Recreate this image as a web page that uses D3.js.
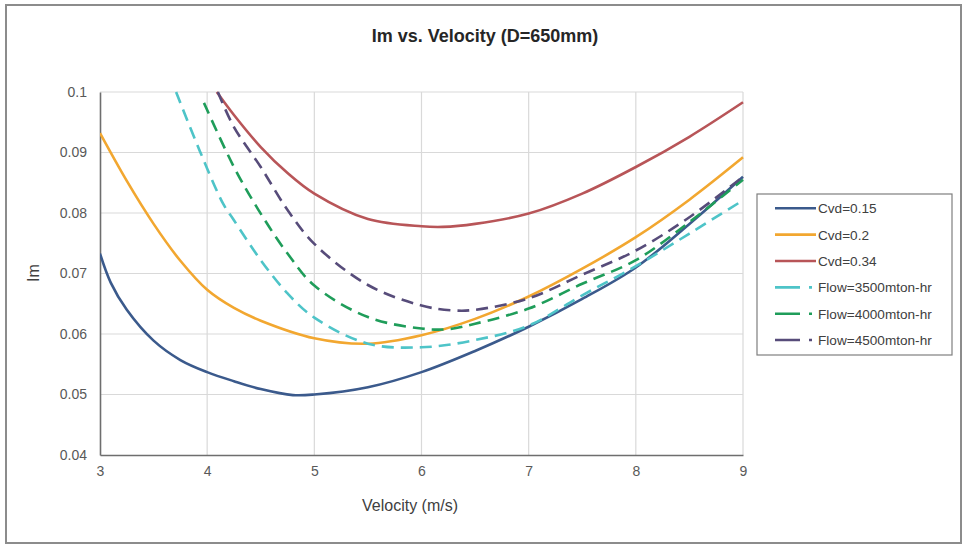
<!DOCTYPE html>
<html>
<head>
<meta charset="utf-8">
<script src="https://cdn.jsdelivr.net/npm/d3@7"></script>
<style>
  html, body { margin: 0; padding: 0; background: #fff; }
  svg { display: block; font-family: "Liberation Sans", Arial, sans-serif; }
</style>
</head>
<body>
<svg id="chart" width="962" height="544"></svg>
<script>
// ---- data ----
const seriesNames = ["Cvd=0.15", "Cvd=0.2", "Cvd=0.34", "Flow=3500mton-hr", "Flow=4000mton-hr", "Flow=4500mton-hr"];

const velCvd015 = [3, 3.1, 3.25, 3.5, 3.75, 4, 4.25, 4.5, 4.8, 5, 5.5, 6, 6.5, 7, 7.5, 8, 8.5, 9];
const imCvd015  = [0.0733, 0.0685, 0.0640, 0.0589, 0.0557, 0.0537, 0.0522, 0.0509, 0.0499, 0.0500, 0.0512, 0.0537, 0.0572, 0.0612, 0.0658, 0.0710, 0.0782, 0.0860];

const velCvd02 = [3, 3.25, 3.5, 3.75, 4, 4.25, 4.5, 5, 5.5, 6, 6.5, 7, 7.5, 8, 8.5, 9];
const imCvd02  = [0.0932, 0.0853, 0.0782, 0.0721, 0.0673, 0.0643, 0.0622, 0.0593, 0.0584, 0.0598, 0.0625, 0.0662, 0.0708, 0.0760, 0.0822, 0.0892];

const velCvd034 = [4.09, 4.25, 4.5, 4.75, 5, 5.5, 6, 6.2, 6.5, 7, 7.5, 8, 8.5, 9];
const imCvd034  = [0.1000, 0.0962, 0.0909, 0.0866, 0.0832, 0.0790, 0.0778, 0.0777, 0.0782, 0.0799, 0.0832, 0.0876, 0.0926, 0.0983];

const velFlow3500 = [3.71, 3.93, 4.15, 4.25, 4.5, 4.75, 5, 5.5, 6, 6.5, 7, 7.5, 8, 8.5, 9];
const imFlow3500  = [0.1000, 0.0903, 0.0815, 0.0788, 0.0722, 0.0667, 0.0627, 0.0584, 0.0578, 0.0590, 0.0614, 0.0664, 0.0712, 0.0766, 0.0821];

const velFlow4000 = [3.97, 4.25, 4.5, 4.75, 5, 5.5, 6, 6.25, 6.5, 7, 7.5, 8, 8.5, 9];
const imFlow4000  = [0.0982, 0.0876, 0.0799, 0.0733, 0.0680, 0.0628, 0.0609, 0.0608, 0.0617, 0.0642, 0.0683, 0.0722, 0.0785, 0.0855];

const velFlow4500 = [4.10, 4.25, 4.5, 4.75, 5, 5.5, 6, 6.3, 6.5, 7, 7.5, 8, 8.5, 9];
const imFlow4500  = [0.1000, 0.0942, 0.0876, 0.0805, 0.0749, 0.0681, 0.0647, 0.0639, 0.0640, 0.0659, 0.0698, 0.0738, 0.0793, 0.0860];

const xTicks = [3, 4, 5, 6, 7, 8, 9];
const yTicks = [0.04, 0.05, 0.06, 0.07, 0.08, 0.09, 0.1];
const xTickLabels = ["3", "4", "5", "6", "7", "8", "9"];
const yTickLabels = ["0.04", "0.05", "0.06", "0.07", "0.08", "0.09", "0.1"];

const colors = ["#3b5a8c", "#f2a730", "#b85558", "#4ec4c8", "#1f9d5a", "#574c7a"];
const dashed = [false, false, false, true, true, true];

// ---- build series ----
const vels = [velCvd015, velCvd02, velCvd034, velFlow3500, velFlow4000, velFlow4500];
const ims = [imCvd015, imCvd02, imCvd034, imFlow3500, imFlow4000, imFlow4500];
const series = seriesNames.map((name, i) => ({
  name, color: colors[i], dashed: dashed[i],
  points: vels[i].map((v, j) => ({ v, im: ims[i][j] }))
}));

// ---- layout ----
const svg = d3.select("#chart");
const plot = { left: 100, right: 743, top: 92, bottom: 455 };

const x = d3.scaleLinear().domain([3, 9]).range([plot.left, plot.right]);
const y = d3.scaleLinear().domain([0.04, 0.1]).range([plot.bottom, plot.top]);

// outer frame
svg.append("rect")
  .attr("x", 6).attr("y", 5).attr("width", 955).attr("height", 538)
  .attr("fill", "#fff").attr("stroke", "#8c8c8c").attr("stroke-width", 2);

// title
svg.append("text")
  .attr("x", 485).attr("y", 41.5)
  .attr("text-anchor", "middle")
  .attr("font-size", 18).attr("font-weight", "bold").attr("fill", "#262626")
  .text("Im vs. Velocity (D=650mm)");

// gridlines
const grid = svg.append("g");
grid.selectAll("line.gy").data(yTicks.slice(1)).enter().append("line")
  .attr("x1", plot.left).attr("x2", plot.right)
  .attr("y1", d => y(d)).attr("y2", d => y(d))
  .attr("stroke", "#d9d9d9").attr("stroke-width", 1.2);
grid.selectAll("line.gx").data(xTicks.slice(1)).enter().append("line")
  .attr("y1", plot.top).attr("y2", plot.bottom)
  .attr("x1", d => x(d)).attr("x2", d => x(d))
  .attr("stroke", "#d9d9d9").attr("stroke-width", 1.2);

// axes
const xAxis = d3.axisBottom(x).tickValues(xTicks).tickFormat((d, i) => xTickLabels[i]).tickSize(0).tickPadding(11);
const yAxis = d3.axisLeft(y).tickValues(yTicks).tickFormat((d, i) => yTickLabels[i]).tickSize(0).tickPadding(13);

const gx = svg.append("g").attr("transform", `translate(0,${plot.bottom})`).call(xAxis);
const gy = svg.append("g").attr("transform", `translate(${plot.left},0)`).call(yAxis);
[gx, gy].forEach(g => {
  g.select(".domain").attr("stroke", "#6e6e6e").attr("stroke-width", 1.6);
  g.selectAll("text").attr("font-size", 14).attr("fill", "#595959")
    .attr("font-family", "'Liberation Sans', Arial, sans-serif");
});

// axis titles
svg.append("text")
  .attr("x", 410).attr("y", 511)
  .attr("text-anchor", "middle").attr("font-size", 16).attr("fill", "#404040")
  .text("Velocity (m/s)");
svg.append("text")
  .attr("transform", "translate(39,273) rotate(-90)")
  .attr("text-anchor", "middle").attr("font-size", 16).attr("fill", "#404040")
  .text("Im");

// clip
svg.append("clipPath").attr("id", "plotclip").append("rect")
  .attr("x", plot.left).attr("y", plot.top - 1)
  .attr("width", plot.right - plot.left + 2).attr("height", plot.bottom - plot.top + 1);

const line = d3.line().x(d => x(d.v)).y(d => y(d.im)).curve(d3.curveCatmullRom.alpha(0.5));

const lines = svg.append("g").attr("clip-path", "url(#plotclip)");
lines.selectAll("path").data(series).enter().append("path")
  .attr("d", d => line(d.points))
  .attr("fill", "none")
  .attr("stroke", d => d.color)
  .attr("stroke-width", 2.6)
  .attr("stroke-dasharray", d => d.dashed ? "12,7" : null)
  .attr("stroke-linecap", "butt");

// legend
const lg = svg.append("g");
lg.append("rect")
  .attr("x", 757).attr("y", 194).attr("width", 195).attr("height", 161)
  .attr("fill", "#fff").attr("stroke", "#7f7f7f").attr("stroke-width", 1.2);
const rows = lg.selectAll("g.row").data(series).enter().append("g")
  .attr("transform", (d, i) => `translate(0,${208.3 + i * 26.35})`);
rows.append("line")
  .attr("x1", 775).attr("x2", 816).attr("y1", 0).attr("y2", 0)
  .attr("stroke", d => d.color).attr("stroke-width", 2.6)
  .attr("stroke-dasharray", d => d.dashed ? "25,9,3,40" : null);
rows.append("text")
  .attr("x", 818).attr("y", 5)
  .attr("font-size", 13.6).attr("fill", "#404040")
  .text(d => d.name);
</script>
</body>
</html>
